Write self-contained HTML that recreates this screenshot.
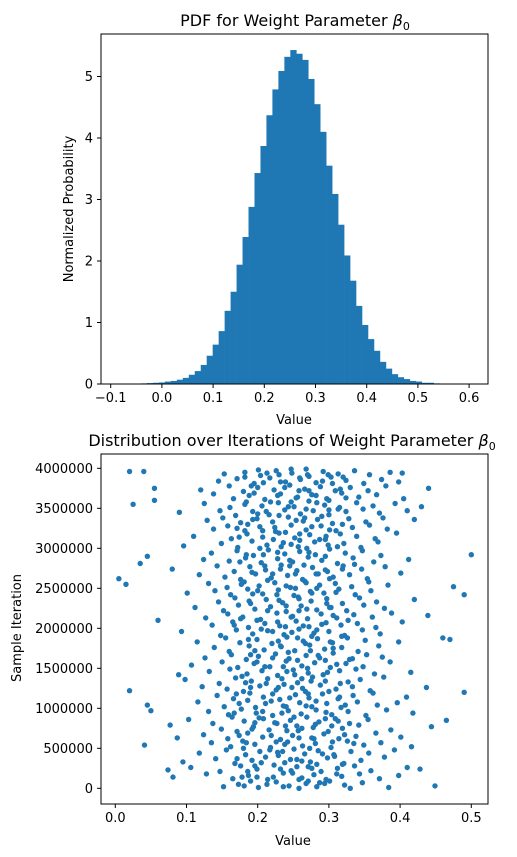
<!DOCTYPE html>
<html><head><meta charset="utf-8">
<style>
html,body{margin:0;padding:0;background:#fff;}
svg{display:block;font-family:"DejaVu Sans","Liberation Sans",sans-serif;}
</style></head>
<body>
<svg id="c" width="517" height="857" viewBox="0 0 517 857"></svg>
<script>
// ---- Histogram data ----
const histBinStart = -0.0875;
const histBinWidth = 0.011667;
const histDensity = [0.001,0.002,0.003,0.006,0.01,0.015,0.02,0.025,0.04,0.05,0.07,0.10,0.15,0.21,0.31,0.46,0.64,0.86,1.19,1.50,1.94,2.39,2.88,3.43,3.87,4.37,4.79,5.09,5.32,5.43,5.37,5.27,4.96,4.55,4.10,3.55,3.09,2.59,2.09,1.68,1.27,0.96,0.73,0.54,0.36,0.25,0.16,0.11,0.08,0.05,0.04,0.02,0.02,0.01,0.005,0.003,0.002,0.001,0.0,0.0];
const histXTicks = [-0.1,0.0,0.1,0.2,0.3,0.4,0.5,0.6];
const histYTicks = [0,1,2,3,4,5];
// ---- Scatter data: value (x1000), iteration (x10000) ----
const scatterPoints = "152,2 173,5 201,1 226,8 244,3 268,6 283,2 301,9 322,4 347,7 384,1 449,3 190,9 258,0 081,14 128,18 165,12 187,16 214,11 236,19 262,13 279,17 296,11 318,15 343,18 371,12 398,16 074,23 106,26 147,21 176,28 199,24 223,29 247,22 271,27 289,21 312,25 336,28 359,22 410,26 428,24 095,33 141,37 168,31 192,35 211,39 238,32 255,36 274,33 298,38 321,31 345,35 378,39 118,44 156,48 183,42 203,46 229,41 251,49 266,43 285,47 307,42 331,46 356,44 392,48 041,54 135,57 162,52 179,59 196,55 218,51 242,58 263,53 281,56 303,51 326,59 349,54 373,57 416,52 087,63 124,67 158,62 186,69 207,64 232,61 249,66 276,63 293,68 314,62 338,65 366,69 401,64 077,79 149,74 171,71 194,77 216,73 239,78 257,72 278,76 299,71 319,75 342,79 387,73 444,77 103,86 137,81 164,89 181,84 202,88 224,82 246,85 269,89 286,83 309,87 329,81 355,86 465,85 131,96 159,92 177,99 198,94 221,91 243,97 261,93 282,98 304,92 327,96 352,91 381,98 418,94 045,104 050,97 116,108 153,102 174,106 197,101 219,109 236,103 259,107 276,102 297,106 317,101 340,108 368,104 396,107 143,116 166,112 189,119 208,114 231,111 253,117 272,113 291,118 313,112 334,116 362,119 409,114 020,122 122,127 157,124 180,121 203,128 226,123 248,126 267,121 288,129 310,124 333,127 358,122 490,120 437,126 098,136 146,131 169,138 191,134 212,131 234,137 256,132 277,139 295,134 316,131 344,136 377,139 089,142 132,146 161,149 185,143 206,147 228,141 250,148 271,144 292,142 315,147 338,149 364,143 415,145 107,154 150,158 172,151 195,156 217,152 240,159 262,153 280,157 302,151 324,156 348,152 386,158 126,163 163,167 184,161 201,165 225,168 244,162 268,166 287,163 306,169 329,161 353,167 375,164 139,176 160,171 188,178 209,173 233,177 252,172 273,179 294,174 318,176 341,171 370,178 115,183 155,188 175,182 199,186 220,181 241,189 264,184 284,187 305,182 326,188 351,185 460,188 470,186 398,183 093,196 148,191 170,198 193,193 214,197 237,192 258,199 279,194 300,196 322,191 347,198 372,193 060,210 136,204 165,208 187,201 210,206 231,203 254,209 272,202 296,207 317,204 340,206 366,201 403,208 127,213 158,218 179,214 204,211 227,219 249,215 270,212 289,218 311,213 335,217 361,214 388,219 439,216 112,226 152,222 173,229 196,224 218,227 240,221 261,228 283,223 303,226 325,222 349,229 378,225 145,233 168,238 190,231 212,236 235,232 257,239 275,234 297,237 319,231 343,238 367,233 420,236 101,244 140,247 162,242 186,249 207,243 229,248 251,241 274,246 293,244 314,249 337,242 359,247 490,242 475,252 015,255 131,256 157,251 181,258 202,253 224,257 246,251 266,259 287,254 309,256 332,252 356,258 383,254 005,262 118,267 154,264 176,261 197,268 219,263 242,266 263,261 285,268 306,264 329,267 354,262 401,269 080,274 143,278 167,271 189,277 211,273 233,279 255,272 277,276 298,271 320,278 346,274 379,277 035,281 124,286 160,284 183,288 205,282 228,287 249,283 271,289 290,285 312,281 334,288 363,283 412,286 045,290 500,292 135,294 171,297 194,291 215,298 238,293 259,296 281,292 301,299 323,294 347,297 373,291 096,303 149,306 172,301 192,309 213,304 236,307 257,302 280,308 299,304 321,306 345,301 369,308 110,315 163,312 185,318 207,314 230,319 252,313 273,317 295,311 316,318 339,315 365,312 395,319 138,324 158,328 182,322 203,327 225,321 247,329 268,323 289,328 310,322 333,326 357,329 382,324 129,335 151,338 176,332 199,337 221,333 243,339 264,334 284,336 305,331 328,337 352,333 376,338 420,336 090,345 147,347 169,341 193,346 216,342 238,348 260,343 278,347 300,342 324,346 348,349 371,344 410,347 025,355 125,356 161,351 184,358 206,353 229,357 251,352 272,359 294,354 315,351 339,357 362,353 393,356 430,352 055,375 055,360 138,368 166,362 188,366 210,361 232,368 254,363 276,367 297,362 318,369 342,364 367,367 405,362 120,373 160,378 180,371 200,376 223,373 245,379 266,374 288,377 309,372 330,376 355,372 380,378 440,375 145,384 171,387 195,381 217,388 239,383 260,386 282,382 303,389 324,385 349,381 374,386 398,383 020,396 040,396 153,393 182,395 204,391 226,397 248,394 270,392 292,396 313,393 336,397 357,392 386,395 403,394";
const scatterPointsCore = "213,5 236,2 271,9 294,6 181,3 330,0 258,11 199,14 311,18 232,24 276,25 186,21 255,27 319,30 205,32 246,36 283,30 171,37 228,45 291,43 217,48 273,50 238,55 184,57 305,58 258,63 219,66 322,67 174,66 241,72 262,75 304,78 192,74 227,81 281,80 251,89 313,84 208,87 167,94 234,94 296,95 268,103 211,106 323,104 186,110 245,113 282,109 221,118 300,121 263,125 190,126 237,130 327,133 275,134 214,137 252,142 178,140 298,145 236,152 270,150 311,155 199,158 256,160 221,163 285,166 243,170 196,172 306,175 267,181 229,184 187,186 318,190 248,195 276,190 205,199 264,203 228,208 290,205 176,212 247,214 306,216 214,222 269,224 240,228 188,234 297,231 258,237 227,242 310,245 200,247 283,250 240,253 177,255 268,257 214,260 301,262 253,268 192,270 282,268 232,274 319,274 265,279 210,278 245,285 295,290 184,292 228,295 269,300 203,300 312,302 247,305 287,311 222,311 174,314 259,318 301,323 239,320 207,322 276,327 186,330 319,330 254,335 230,341 290,340 200,343 268,349 313,349 243,352 182,355 283,357 218,358 256,364 300,360 228,366 195,369 272,372 316,374 238,376 208,382 291,384 259,388 182,389 230,392 320,389 268,399 201,398 299,392";
const scatterPointsCore2 = "222,14 287,7 249,19 196,28 262,34 308,40 235,46 180,50 279,62 226,58 255,78 196,82 295,87 240,102 207,96 271,118 229,126 315,114 183,132 262,137 241,146 295,160 210,152 274,172 232,178 190,167 256,188 221,196 302,183 283,198 239,202 199,210 258,222 301,226 230,235 276,244 193,243 253,250 221,268 295,273 245,278 175,283 272,295 233,302 208,292 259,310 296,315 224,326 266,338 193,336 300,348 247,358 212,346 282,366 232,383 258,372 305,381 191,378 272,390 213,394 247,399 324,363 171,325 336,280 167,204 333,162 170,118 335,56 178,14 327,210";
const scatterXTicks = [0.0,0.1,0.2,0.3,0.4,0.5];
const scatterYTicks = [0,500000,1000000,1500000,2000000,2500000,3000000,3500000,4000000];

const NS="http://www.w3.org/2000/svg";
const svg=document.getElementById('c');
function mk(tag,attrs,parent){const e=document.createElementNS(NS,tag);for(const k in attrs)e.setAttribute(k,attrs[k]);(parent||svg).appendChild(e);return e;}
const blue="#1f77b4";

// ---- Top axes ----
const T={l:101,r:488,t:34,b:384};
const hx=v=>110.7+(v+0.1)*512;
const hy=v=>384-v*61.5;
const gH=mk('g',{});


histDensity.forEach((d,i)=>{
  if(d<=0)return;
  const x0=hx(histBinStart+i*histBinWidth),x1=hx(histBinStart+(i+1)*histBinWidth);
  const r=mk('rect',{x:x0,y:hy(d),width:x1-x0+0.3,height:hy(0)-hy(d),fill:blue},gH);
  
  
});
const f1=mk('rect',{x:T.l,y:T.t,width:T.r-T.l,height:T.b-T.t,fill:'none',stroke:'#000','stroke-width':1});


histXTicks.forEach(v=>{
  const x=hx(v);
  mk('line',{x1:x,x2:x,y1:T.b,y2:T.b+4,stroke:'#000'});
  const t=mk('text',{x:x,y:T.b+18,'font-size':13,'text-anchor':'middle'});
  t.textContent=(v<0?'\u2212':'')+Math.abs(v).toFixed(1);
  
  
});
histYTicks.forEach(v=>{
  const y=hy(v);
  mk('line',{x1:T.l-4,x2:T.l,y1:y,y2:y,stroke:'#000'});
  const t=mk('text',{x:T.l-8,y:y+4.5,'font-size':13,'text-anchor':'end'});
  t.textContent=v;
  
  
});

// ---- Bottom axes ----
const B={l:101,r:488,t:454,b:804};
const sx=v=>115.3+v*712;
const sy=v=>788.3-v*0.00008;
const gS=mk('g',{});


(scatterPoints+" "+scatterPointsCore+" "+scatterPointsCore2).split(' ').forEach(p=>{
  const [a,b]=p.split(',').map(Number);
  const c=mk('circle',{cx:sx(a/1000),cy:sy(b*10000),r:2.7,fill:blue},gS);
  
  
});
const f2=mk('rect',{x:B.l,y:B.t,width:B.r-B.l,height:B.b-B.t,fill:'none',stroke:'#000','stroke-width':1});


scatterXTicks.forEach(v=>{
  const x=sx(v);
  mk('line',{x1:x,x2:x,y1:B.b,y2:B.b+4,stroke:'#000'});
  const t=mk('text',{x:x,y:B.b+18,'font-size':13,'text-anchor':'middle'});
  t.textContent=v.toFixed(1);
  
  
});
scatterYTicks.forEach(v=>{
  const y=sy(v);
  mk('line',{x1:B.l-4,x2:B.l,y1:y,y2:y,stroke:'#000'});
  const t=mk('text',{x:B.l-8,y:y+4.5,'font-size':13,'text-anchor':'end'});
  t.textContent=v;
  
  
});
</script>
<svg style="position:absolute;left:0;top:0" width="517" height="857">
  <text x="295" y="26" font-size="16" text-anchor="middle">PDF for Weight Parameter <tspan font-style="italic">β</tspan><tspan font-size="11" dy="4">0</tspan></text>
  <text x="294" y="424" font-size="13" text-anchor="middle">Value</text>
  <text transform="translate(73,209) rotate(-90)" font-size="13" text-anchor="middle">Normalized Probability</text>
  <text x="292" y="446" font-size="16" text-anchor="middle">Distribution over Iterations of Weight Parameter <tspan font-style="italic">β</tspan><tspan font-size="11" dy="4">0</tspan></text>
  <text x="293" y="845" font-size="13" text-anchor="middle">Value</text>
  <text transform="translate(21,628) rotate(-90)" font-size="13" text-anchor="middle">Sample Iteration</text>
</svg>
</body></html>
